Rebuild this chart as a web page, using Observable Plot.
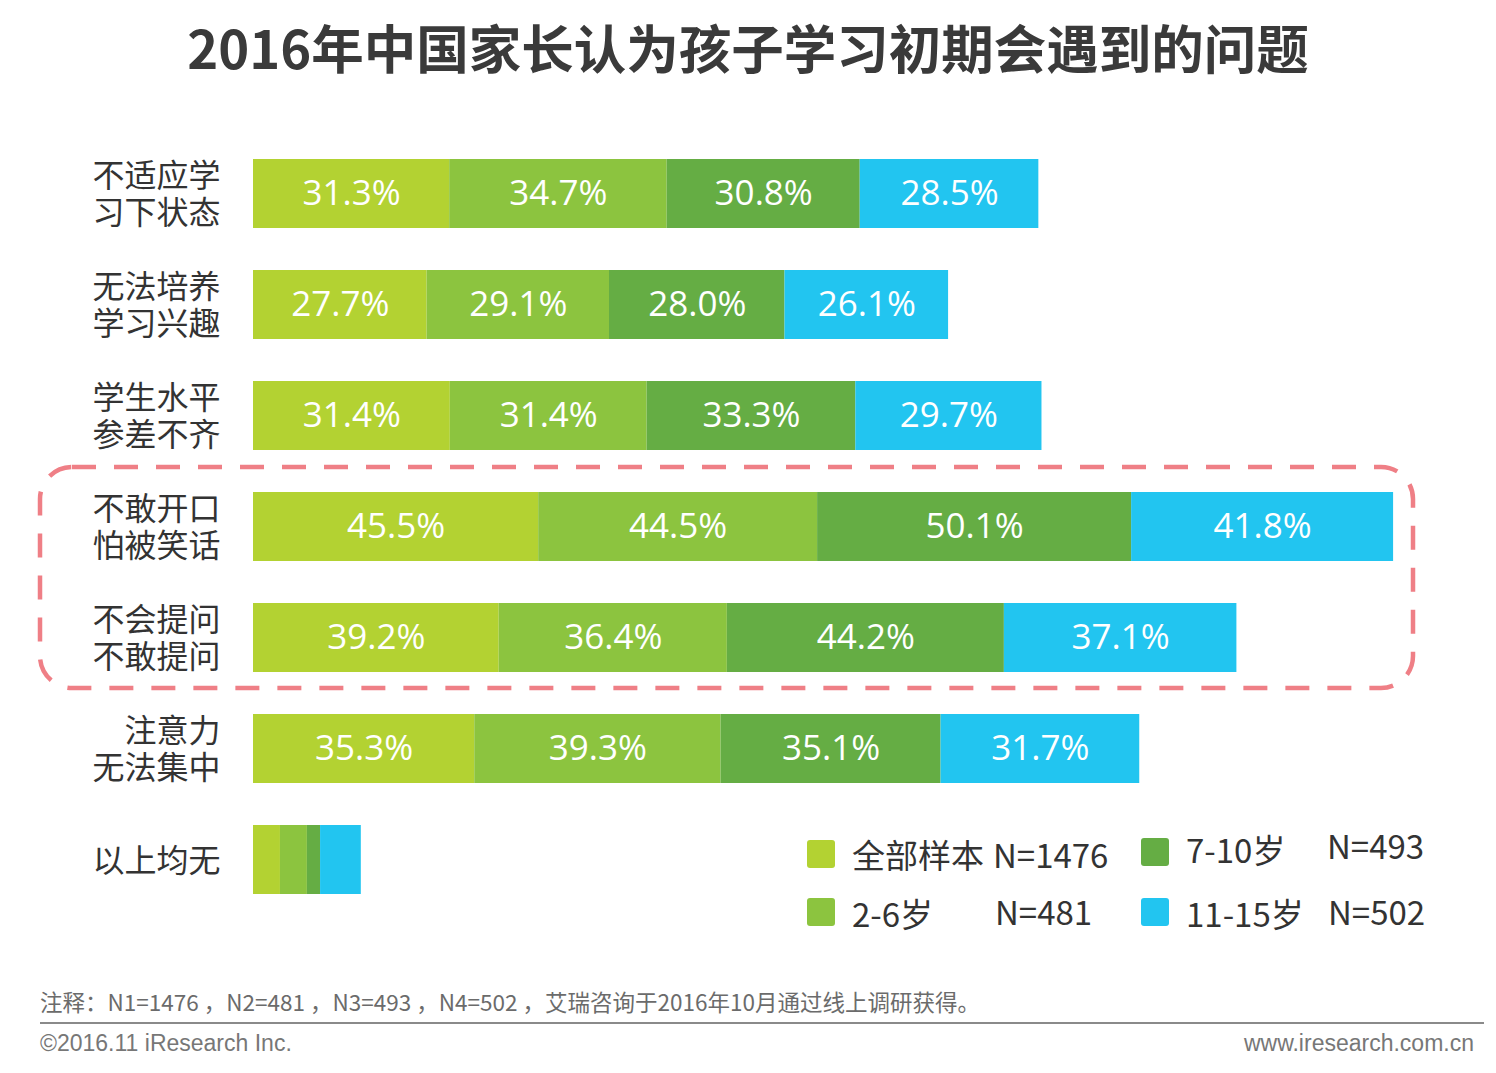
<!DOCTYPE html>
<html>
<head>
<meta charset="utf-8">
<script src="https://cdn.jsdelivr.net/npm/d3@7"></script>
<script src="https://cdn.jsdelivr.net/npm/@observablehq/plot@0.6"></script>
<style>
  html, body { margin: 0; padding: 0; background: #fff; }
  body { width: 1496px; height: 1073px; position: relative; overflow: hidden;
         font-family: "Noto Sans CJK SC", "Noto Sans", sans-serif; color: #333; }
  #title { position: absolute; left: 0; top: 12px; width: 1496px; text-align: center;
           font-size: 52.5px; font-weight: 700; color: #3a3a3a; line-height: 68px; }
  #chart { position: absolute; left: 0; top: 110px; }
  #frame { position: absolute; left: 0; top: 0; pointer-events: none; }
  .leg { position: absolute; font-size: 33px; color: #333; line-height: 40px; white-space: nowrap; }
  .sw { position: absolute; width: 28px; height: 28px; border-radius: 3px; }
  #note { position: absolute; left: 40px; top: 985px; font-size: 22.5px; color: #6b6b6b; white-space: nowrap; }
  #rule { position: absolute; left: 40px; top: 1022px; width: 1444px; height: 2px; background: #8a8a8a; }
  #copy { position: absolute; left: 40px; top: 1030px; font-family: "Liberation Sans", Arial, sans-serif; font-size: 23px; color: #777; }
  #site { position: absolute; right: 22px; top: 1030px; font-family: "Liberation Sans", Arial, sans-serif; font-size: 23px; color: #777; }
</style>
</head>
<body>
<div id="title">2016年中国家长认为孩子学习初期会遇到的问题</div>
<div id="chart"></div>
<div id="legend"></div>
<div id="note">注释：N1=1476 ，N2=481 ，N3=493 ，N4=502 ，艾瑞咨询于2016年10月通过线上调研获得。</div>
<div id="rule"></div>
<div id="copy">©2016.11 iResearch Inc.</div>
<div id="site">www.iresearch.com.cn</div>
<script>
const categories = [
  "不适应学\n习下状态",
  "无法培养\n学习兴趣",
  "学生水平\n参差不齐",
  "不敢开口\n怕被笑话",
  "不会提问\n不敢提问",
  "注意力\n无法集中",
  "以上均无"
];
const seriesNames = ["全部样本", "2-6岁", "7-10岁", "11-15岁"];
const seriesN = ["N=1476", "N=481", "N=493", "N=502"];
const colors = ["#b3d232", "#8cc43f", "#65ad44", "#22c5f0"];
const allSample = [31.3, 27.7, 31.4, 45.5, 39.2, 35.3, 4.3];
const age2to6   = [34.7, 29.1, 31.4, 44.5, 36.4, 39.3, 4.3];
const age7to10  = [30.8, 28.0, 33.3, 50.1, 44.2, 35.1, 2.1];
const age11to15 = [28.5, 26.1, 29.7, 41.8, 37.1, 31.7, 6.5];
const showLabels = [true, true, true, true, true, true, false];

const seriesValues = [allSample, age2to6, age7to10, age11to15];
const table = [];
categories.forEach((c, i) => {
  seriesNames.forEach((s, j) => {
    table.push({category: c, series: s, value: seriesValues[j][i], show: showLabels[i]});
  });
});

const stackOpts = {x: "value", y: "category", z: "series", order: null};

const chart = Plot.plot({
  width: 1496,
  height: 850,
  marginLeft: 253,
  marginRight: 2,
  marginTop: 6,
  marginBottom: 24,
  style: {fontFamily: "'Noto Sans CJK SC', 'Noto Sans', sans-serif", background: "transparent", overflow: "visible"},
  x: {domain: [0, 198], axis: null},
  y: {domain: categories, padding: 0.38, label: null},
  color: {domain: seriesNames, range: colors},
  marks: [
    Plot.axisY({tickSize: 0, tickPadding: 33, fontSize: 32, lineHeight: 1.16, fill: "#333", label: null}),
    Plot.barX(table, Plot.stackX({...stackOpts, fill: "series"})),
    Plot.text(table.filter(d => d.show), Plot.stackX({
      ...stackOpts,
      text: d => d.value.toFixed(1) + "%",
      fill: "white",
      fontSize: 35,
      fontFamily: "'Open Sans', 'Noto Sans', sans-serif"
    }))
  ]
});
document.getElementById("chart").appendChild(chart);

// dashed highlight frame around rows 4 and 5
const ns = "http://www.w3.org/2000/svg";
const frame = document.createElementNS(ns, "svg");
frame.setAttribute("id", "frame");
frame.setAttribute("width", 1496);
frame.setAttribute("height", 1073);
const r = document.createElementNS(ns, "rect");
r.setAttribute("x", 40); r.setAttribute("y", 467);
r.setAttribute("width", 1373); r.setAttribute("height", 221);
r.setAttribute("rx", 32); r.setAttribute("ry", 32);
r.setAttribute("fill", "none");
r.setAttribute("stroke", "#ef7f86");
r.setAttribute("stroke-width", 4.5);
r.setAttribute("stroke-dasharray", "24 18");
frame.appendChild(r);
document.body.appendChild(frame);

// legend
const legend = document.getElementById("legend");
const legPos = [
  {sx: 807, sy: 840, tx: 852, nx: 993, ty: 834, ny: 834},
  {sx: 807, sy: 898, tx: 852, nx: 995, ty: 893, ny: 891},
  {sx: 1141, sy: 838, tx: 1186, nx: 1327, ty: 829, ny: 825},
  {sx: 1141, sy: 898, tx: 1186, nx: 1328, ty: 893, ny: 891}
];
seriesNames.forEach((s, i) => {
  const p = legPos[i];
  const sw = document.createElement("div");
  sw.className = "sw"; sw.style.left = p.sx + "px"; sw.style.top = p.sy + "px"; sw.style.background = colors[i];
  legend.appendChild(sw);
  const t = document.createElement("div");
  t.className = "leg"; t.style.left = p.tx + "px"; t.style.top = p.ty + "px"; t.textContent = s;
  legend.appendChild(t);
  const n = document.createElement("div");
  n.className = "leg"; n.style.left = p.nx + "px"; n.style.top = p.ny + "px"; n.textContent = seriesN[i];
  legend.appendChild(n);
});
</script>
</body>
</html>
